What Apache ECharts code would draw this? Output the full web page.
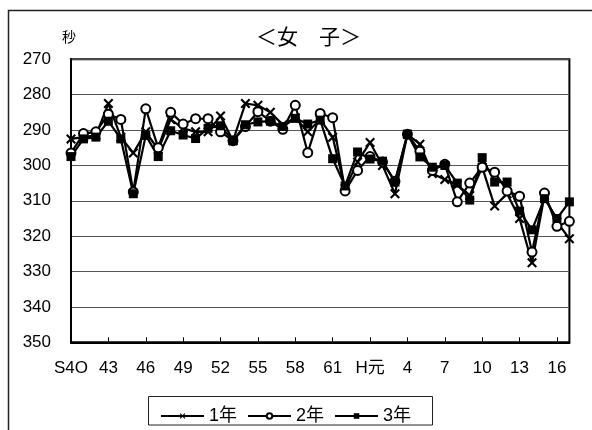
<!DOCTYPE html>
<html>
<head>
<meta charset="utf-8">
<script src="https://cdn.jsdelivr.net/npm/echarts@6/dist/echarts.min.js"></script>
<style>
html,body{margin:0;padding:0;background:#fff;}
#chart{width:592px;height:430px;}
</style>
</head>
<body>
<div id="chart"></div>
<script>
var categories = ["S4O","41","42","43","44","45","46","47","48","49","50","51","52","53","54","55","56","57","58","59","60","61","62","63",
  "H元","2","3","4","5","6","7","8","9","10","11","12","13","14","15","16","17"];
var yTicks = [270,280,290,300,310,320,330,340,350];
var year1 = [292.5,292,291.5,282.5,292,296.5,290.5,295.5,287,289.5,290.5,290.5,286,293,282.5,283,285,288.5,286.5,290.5,
  287,292,306.5,299,293.5,300,308,291.2,294,302.3,304,305.5,308.5,300.5,311.5,308,315,327.5,308.5,316,320.7];
var year2 = [296.5,291,290.5,285.5,287,307.5,284,295,285,288.3,286.8,286.8,290.5,293,289,284.8,287.5,289.8,283,296.4,
  285.3,286.5,307.2,301.4,297.5,299,304.5,291.2,296,301.4,299.7,310.3,305,300.5,301.9,307.2,308.7,324.5,307.8,317.2,315.8];
var year3 = [297.5,292.5,292,287.5,292.5,308,291.5,297.5,290.2,291.4,292.4,289.5,288.8,293,288.5,287.7,287.5,289,286.7,288.3,
  287.2,298.1,305.8,296.2,298.2,298.8,304.7,291.2,297.6,300.5,300,305,309.8,297.8,304.7,304.7,312.9,318.2,309.4,315,310.3];
var seriesNames = ["1年","2年","3年"];

var FONT = "'Liberation Sans', 'Noto Sans CJK JP', sans-serif";
var crossPath = 'path://M0,1.5 L1.5,0 L5,3.5 L8.5,0 L10,1.5 L6.5,5 L10,8.5 L8.5,10 L5,6.5 L1.5,10 L0,8.5 L3.5,5 Z';

var chart = echarts.init(document.getElementById('chart'), null, {renderer:'canvas'});
chart.setOption({
  animation: false,
  backgroundColor: '#fff',
  title: {
    text: '＜女　子＞',
    left: 251, top: 21,
    textStyle: {fontFamily: "'Noto Sans CJK JP', sans-serif", fontSize: 21, fontWeight: 'normal', color: '#000'}
  },
  graphic: [
    {type:'rect', shape:{x:8.5, y:10.5, width:620, height:460}, style:{fill:'none', stroke:'#222', lineWidth:1.5}, silent:true, z:-1},
    {type:'rect', shape:{x:148.5, y:396.5, width:284, height:28.5}, style:{fill:'#fff', stroke:'#222', lineWidth:1}, silent:true},
    {type:'text', x:69, y:36.5, style:{text:'秒', fontFamily:"'Noto Sans CJK JP', sans-serif", fontSize:14, fill:'#000', align:'center', verticalAlign:'middle'}}
  ],
  legend: {
    data: seriesNames,
    left: 155, top: 402,
    itemWidth: 43, itemHeight: 7, itemGap: 10,
    textStyle: {fontFamily: FONT, fontSize: 18, color: '#000', padding: [0,0,0,0]},
    z: 10
  },
  grid: {left: 71, top: 59.3, right: 22.6, bottom: 87.7, show: true, borderColor: '#000', borderWidth: 2, containLabel: false},
  xAxis: {
    type: 'category',
    data: categories,
    boundaryGap: false,
    axisLine: {lineStyle: {color: '#000', width: 2}},
    axisTick: {show: true, inside: true, length: 5, interval: 2, lineStyle: {color: '#000', width: 1}},
    axisLabel: {interval: 2, fontFamily: FONT, fontSize: 17, color: '#000', margin: 18},
    splitLine: {show: false}
  },
  yAxis: {
    type: 'value',
    inverse: true,
    min: yTicks[0], max: yTicks[yTicks.length-1], interval: 10,
    axisLine: {show: true, lineStyle: {color: '#000', width: 2}},
    axisTick: {show: false},
    axisLabel: {fontFamily: FONT, fontSize: 17, color: '#000', margin: 20},
    splitLine: {show: true, lineStyle: {color: '#555', width: 1}}
  },
  series: [
    {name: seriesNames[0], type: 'line', data: year1, symbol: crossPath, symbolSize: 10, showSymbol: true, showAllSymbol: true,
      lineStyle: {color: '#000', width: 2.2}, itemStyle: {color: '#000', borderWidth: 0}},
    {name: seriesNames[1], type: 'line', data: year2, symbol: 'circle', symbolSize: 9, showSymbol: true, showAllSymbol: true,
      lineStyle: {color: '#000', width: 2.2}, itemStyle: {color: '#fff', borderColor: '#000', borderWidth: 2}},
    {name: seriesNames[2], type: 'line', data: year3, symbol: 'rect', symbolSize: 9, showSymbol: true, showAllSymbol: true,
      lineStyle: {color: '#000', width: 2.2}, itemStyle: {color: '#000', borderWidth: 0}}
  ]
});
</script>
</body>
</html>
